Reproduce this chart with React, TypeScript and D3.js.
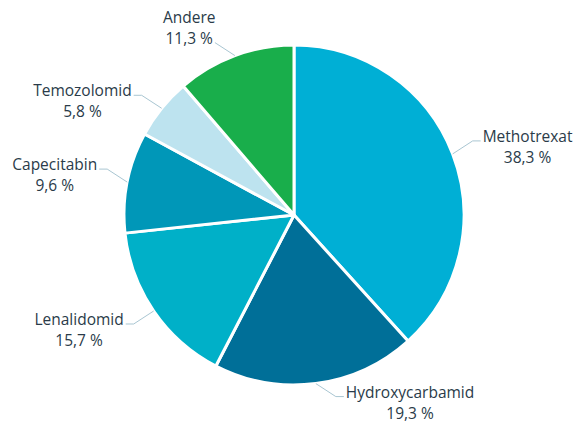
import * as d3 from 'd3';
import { useEffect, useRef } from 'react';

const width = 573;
const height = 424;

const categories = [
  'Methotrexat',
  'Hydroxycarbamid',
  'Lenalidomid',
  'Capecitabin',
  'Temozolomid',
  'Andere',
];
const shares = [38.3, 19.3, 15.7, 9.6, 5.8, 11.3];
const colors = ['#00afd5', '#006f98', '#00b0c8', '#0097b8', '#bde3ef', '#19ae4b'];

const cx = 294;
const cy = 215;
const radius = 170;
const fontSize = 15.5;
const lineGap = 21;
const hseg = 8;

export default function App() {
  const svgRef = useRef<SVGSVGElement>(null);

  useEffect(() => {
    document.body.style.margin = '0';
    const svg = d3.select(svgRef.current);
    svg.selectAll('*').remove();

    const g = svg.append('g').attr('transform', `translate(${cx},${cy})`);

    const pie = d3.pie<number>().sort(null).value((d) => d);
    const arcs = pie(shares);
    const arc = d3
      .arc<d3.PieArcDatum<number>>()
      .innerRadius(0)
      .outerRadius(radius);

    g.selectAll('path.slice')
      .data(arcs)
      .join('path')
      .attr('class', 'slice')
      .attr('d', arc)
      .attr('fill', (d, i) => colors[i])
      .attr('stroke', '#fff')
      .attr('stroke-width', 3)
      .attr('stroke-linejoin', 'round');

    const fmt = (v: number) => d3.format('.1f')(v).replace('.', ',') + ' %';
    const labels = g.append('g').attr('font-family', '"Open Sans", sans-serif').attr('font-size', fontSize);

    arcs.forEach((a, i) => {
      const mid = (a.startAngle + a.endAngle) / 2;
      const sx = Math.sin(mid) * radius;
      const sy = -Math.cos(mid) * radius;
      const dirX = sx >= 0 ? 1 : -1;
      const dirY = sy >= 0 ? 1 : -1;
      const ex = sx + dirX * 20;
      const ey = sy + dirY * 13;
      // label right above the pie: leader ends at the value line, no elbow
      const nearTop = Math.abs(Math.sin(mid)) < 0.4 && sy < 0;

      const pts: [number, number][] = [
        [sx, sy],
        [ex, ey],
      ];
      if (!nearTop) pts.push([ex + dirX * hseg, ey]);
      labels
        .append('path')
        .attr('d', d3.line()(pts))
        .attr('fill', 'none')
        .attr('stroke', '#a9c6d2')
        .attr('stroke-width', 1);

      const t1 = labels.append('text').attr('fill', '#2a3b49').attr('text-anchor', 'middle').text(categories[i]);
      const t2 = labels.append('text').attr('fill', '#2a3b49').attr('text-anchor', 'middle').text(fmt(shares[i]));
      const w1 = (t1.node() as SVGTextElement).getComputedTextLength();
      const w2 = (t2.node() as SVGTextElement).getComputedTextLength();

      let centerX: number;
      let base1: number;
      if (nearTop) {
        centerX = dirX > 0 ? ex + 2 + w2 / 2 : ex - 2 - w2 / 2;
        base1 = ey + 1 - lineGap;
      } else {
        const w = Math.max(w1, w2);
        centerX = dirX > 0 ? ex + hseg + 2 + w / 2 : ex - hseg - 2 - w / 2;
        base1 = ey + 1;
      }
      t1.attr('x', centerX).attr('y', base1);
      t2.attr('x', centerX).attr('y', base1 + lineGap);
    });
  }, []);

  return (
    <svg
      ref={svgRef}
      width={width}
      height={height}
      viewBox={`0 0 ${width} ${height}`}
      style={{ display: 'block', background: '#fff' }}
    />
  );
}
